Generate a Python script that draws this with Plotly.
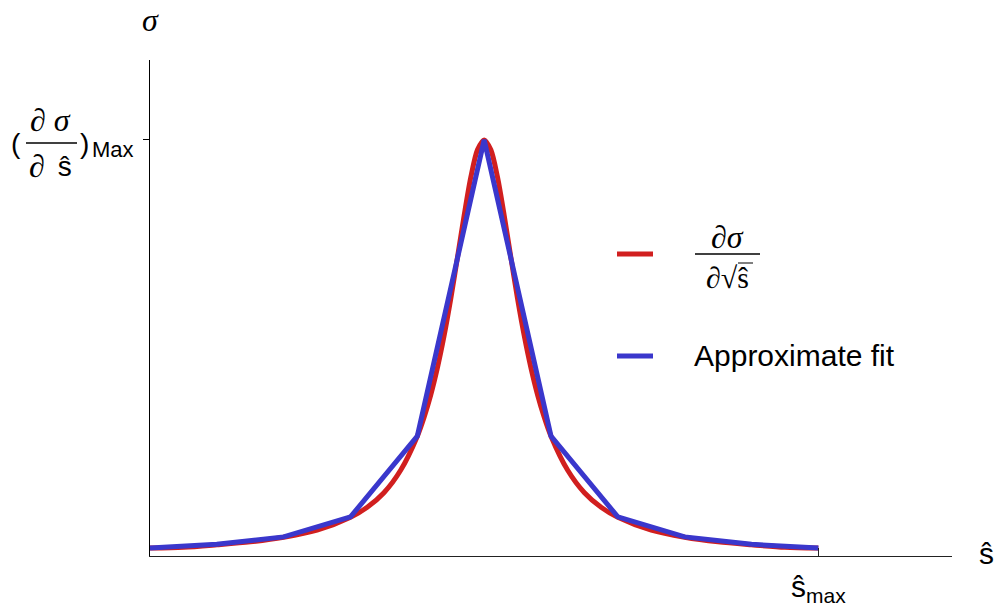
import plotly.graph_objects as go

# Cross-section derivative (smooth curve) versus s-hat, s_max at 10
s_curve = [0, 0.5, 1, 1.5, 2, 2.5, 3, 3.25, 3.5, 3.75, 4, 4.1, 4.2, 4.3, 4.4, 4.5,
           4.6, 4.7, 4.8, 4.9, 5, 5.1, 5.2, 5.3, 5.4, 5.5, 5.6, 5.7, 5.8, 5.9, 6,
           6.25, 6.5, 6.75, 7, 7.5, 8, 8.5, 9, 9.5, 10]
dsigma = [0.019, 0.021, 0.027, 0.034, 0.045, 0.062, 0.093, 0.117, 0.152, 0.206,
          0.288, 0.333, 0.387, 0.452, 0.529, 0.618, 0.717, 0.818, 0.910, 0.976,
          1.0, 0.976, 0.910, 0.818, 0.717, 0.618, 0.529, 0.452, 0.387, 0.333,
          0.288, 0.206, 0.152, 0.117, 0.093, 0.062, 0.045, 0.034, 0.027, 0.021, 0.019]

# Piecewise-linear approximation through knots
s_fit = [0, 1, 2, 3, 4, 5, 6, 7, 8, 9, 10]
fit = [0.019, 0.028, 0.046, 0.094, 0.288, 1.0, 0.288, 0.094, 0.046, 0.028, 0.019]

y_tick = [1.0]
x_tick = [10]

RED = "#d11f1f"
BLUE = "#3a37cc"
W, H = 998, 607
ML, MR, MT, MB = 150, 46, 60, 51
PW, PH = W - ML - MR, H - MT - MB


def px(x):
    return (x - ML) / PW


def py(y):
    return (H - MB - y) / PH


SERIF = "Liberation Serif"
SANS = "Liberation Sans"

fig = go.Figure()
fig.add_trace(go.Scatter(x=s_curve, y=dsigma, mode="lines",
                         line=dict(color=RED, width=5, shape="spline", smoothing=0.8),
                         showlegend=False, hoverinfo="skip"))
fig.add_trace(go.Scatter(x=s_fit, y=fit, mode="lines",
                         line=dict(color=BLUE, width=5),
                         showlegend=False, hoverinfo="skip"))

annotations = []


def text(x, y, s, size, family=SANS, xanchor="center"):
    annotations.append(dict(xref="paper", yref="paper", x=px(x), y=py(y), text=s,
                            showarrow=False, xanchor=xanchor, yanchor="middle",
                            font=dict(family=family, size=size, color="black")))


# axis titles
text(150, 20, "<i>σ</i>", 32, SERIF)
text(987, 553, "ŝ", 30)
# y tick label: (∂σ/∂ŝ)_Max
text(16, 143, "(", 28)
text(50, 120, "<i>∂ σ</i>", 32, SERIF)
text(47, 166, "<i>∂</i>", 32, SERIF, xanchor="right")
text(48, 166, " ŝ", 28, SANS, xanchor="left")
text(84, 143, ")", 28)
text(90, 150, "Max", 22, xanchor="left")
# x tick label: ŝ_max
text(818, 588, "ŝ<sub>max</sub>", 30)
# legend entries
text(727, 237, "<i>∂σ</i>", 32, SERIF)
text(727, 277, "<i>∂</i>√ŝ", 30, SERIF)
text(692, 355, "Approximate fit", 30, xanchor="left")
fig.update_layout(annotations=annotations)

shapes = [
    dict(type="line", xref="paper", yref="paper", x0=px(26), x1=px(77), y0=py(143), y1=py(143),
         line=dict(color="black", width=1.5)),
    dict(type="line", xref="paper", yref="paper", x0=px(695), x1=px(760), y0=py(254), y1=py(254),
         line=dict(color="black", width=1.5)),
    dict(type="line", xref="paper", yref="paper", x0=px(738), x1=px(753), y0=py(263), y1=py(263),
         line=dict(color="black", width=1)),
    dict(type="line", xref="paper", yref="paper", x0=px(617), x1=px(653), y0=py(254), y1=py(254),
         line=dict(color=RED, width=5)),
    dict(type="line", xref="paper", yref="paper", x0=px(617), x1=px(653), y0=py(356), y1=py(356),
         line=dict(color=BLUE, width=5)),
]
fig.update_layout(shapes=shapes)

fig.update_layout(
    width=W, height=H,
    margin=dict(l=ML, r=MR, t=MT, b=MB),
    paper_bgcolor="white", plot_bgcolor="white",
    xaxis=dict(range=[0, 12], showgrid=False, zeroline=False, showline=True,
               linecolor="#222", linewidth=1, ticks="inside", ticklen=8,
               tickcolor="#222", tickvals=x_tick, showticklabels=False, fixedrange=True),
    yaxis=dict(range=[0, 1.192], showgrid=False, zeroline=False, showline=True,
               linecolor="black", linewidth=1, ticks="outside", ticklen=6,
               tickcolor="black", tickvals=y_tick, showticklabels=False, fixedrange=True),
)

fig.write_html("out.html", config=dict(displayModeBar=False))
